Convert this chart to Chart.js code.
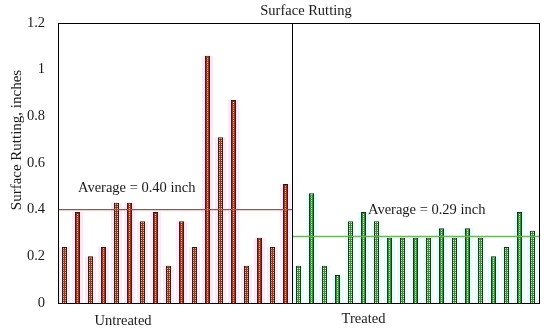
<!DOCTYPE html>
<html><head><meta charset="utf-8">
<script src="https://cdn.jsdelivr.net/npm/chart.js@4"></script>
<style>html,body{margin:0;padding:0;background:#fff}#wrap{width:550px;height:331px;position:relative}</style>
</head><body><div id="wrap"><canvas id="c" width="550" height="331"></canvas></div>
<script>
const untreated = [0.24,0.39,0.20,0.24,0.43,0.43,0.35,0.39,0.16,0.35,0.24,1.06,0.71,0.87,0.16,0.28,0.24,0.51];
const treated = [0.16,0.47,0.16,0.12,0.35,0.39,0.35,0.28,0.28,0.28,0.28,0.32,0.28,0.32,0.28,0.20,0.24,0.39,0.31];
const groupNames = ["Untreated","Treated"];
const averages = [0.40, 0.285];
const averageLabels = ["Average = 0.40 inch","Average = 0.29 inch"];
const yTicks = [0,0.2,0.4,0.6,0.8,1,1.2];
const chartTitle = "Surface Rutting";
const yTitle = "Surface Rutting, inches";

const categories = untreated.map((_,i)=>"U"+(i+1)).concat(treated.map((_,i)=>"T"+(i+1)));
const nU = untreated.length, nT = treated.length;
const uData = untreated.concat(treated.map(()=>null));
const tData = untreated.map(()=>null).concat(treated);

function makePattern(bg, dot){
  const c = document.createElement('canvas'); c.width = 2; c.height = 2;
  const x = c.getContext('2d');
  x.fillStyle = bg; x.fillRect(0,0,2,2);
  x.fillStyle = dot; x.fillRect(1,0,1,1);
  return document.getElementById('c').getContext('2d').createPattern(c,'repeat');
}
const FONT = '"Liberation Serif", "Times New Roman", serif';
const uFill = makePattern('#8f3a24','#eab873');
const tFill = makePattern('#428c42','#cfeec0');

const overlay = {
  id:'overlay',
  afterDatasetsDraw(chart){
    const {ctx, chartArea:a, scales:{x,y}} = chart;
    const div = (x.getPixelForValue(nU-1)+x.getPixelForValue(nU))/2;
    ctx.save();
    ctx.lineWidth = 1.3;
    ctx.strokeStyle = '#c8402e';
    let ya = y.getPixelForValue(averages[0]);
    ctx.beginPath(); ctx.moveTo(a.left, ya); ctx.lineTo(div, ya); ctx.stroke();
    ctx.strokeStyle = '#6db35e';
    let yb = y.getPixelForValue(averages[1]);
    ctx.beginPath(); ctx.moveTo(div, yb); ctx.lineTo(a.right, yb); ctx.stroke();
    ctx.strokeStyle = '#000'; ctx.lineWidth = 1;
    ctx.strokeRect(Math.round(a.left)+0.5, Math.round(a.top)+0.5, Math.round(a.right-a.left), Math.round(a.bottom-a.top));
    ctx.beginPath(); ctx.moveTo(Math.round(div)+0.5, a.top); ctx.lineTo(Math.round(div)+0.5, a.bottom); ctx.stroke();
    ctx.fillStyle = '#1a1a1a';
    ctx.font = '14.5px ' + FONT;
    ctx.textBaseline = 'middle';
    ctx.textAlign = 'left';
    ctx.fillText(averageLabels[0], a.left + 20, ya - 21);
    ctx.fillText(averageLabels[1], div + 76, yb - 26);
    ctx.textAlign = 'center';
    ctx.fillText(chartTitle, 306, 11);
    const ux = (x.getPixelForValue(4)+x.getPixelForValue(5))/2;
    ctx.fillText(groupNames[0], ux, 321);
    ctx.fillText(groupNames[1], x.getPixelForValue(nU+5), 319);
    ctx.translate(17, 140); ctx.rotate(-Math.PI/2);
    ctx.font = '15px ' + FONT;
    ctx.fillText(yTitle, 0, 0);
    ctx.restore();
  }
};

new Chart(document.getElementById('c'), {
  type:'bar',
  data:{
    labels: categories,
    datasets:[
      {data:uData, backgroundColor:uFill, borderColor:'#2e160e', borderWidth:1, barPercentage:0.39, categoryPercentage:1, grouped:false, order:1},
      {data:tData, backgroundColor:tFill, borderColor:'#142e14', borderWidth:1, barPercentage:0.39, categoryPercentage:1, grouped:false, order:1},
      {data:uData, backgroundColor:'rgba(255,205,235,0.45)', borderWidth:0, barPercentage:0.85, categoryPercentage:1, grouped:false, order:3},
      {data:tData, backgroundColor:'rgba(200,250,245,0.45)', borderWidth:0, barPercentage:0.85, categoryPercentage:1, grouped:false, order:3}
    ]
  },
  options:{
    responsive:false, devicePixelRatio:1, animation:false,
    layout:{padding:{top:23, right:11, left:0, bottom:0}},
    plugins:{legend:{display:false}, tooltip:{enabled:false}, title:{display:false}},
    scales:{
      x:{ticks:{display:false}, grid:{display:false}, border:{display:false},
         afterFit(s){ s.height = 28; }},
      y:{min:0, max:1.2,
         afterBuildTicks(s){ s.ticks = yTicks.map(v=>({value:v})); },
         ticks:{font:{family:FONT, size:14.5}, color:'#1a1a1a', padding:13,
                callback:v=>String(Math.round(v*10)/10)},
         grid:{display:false, drawTicks:false}, border:{display:false},
         afterFit(s){ s.width = 58; }}
    }
  },
  plugins:[overlay]
});
</script></body></html>
